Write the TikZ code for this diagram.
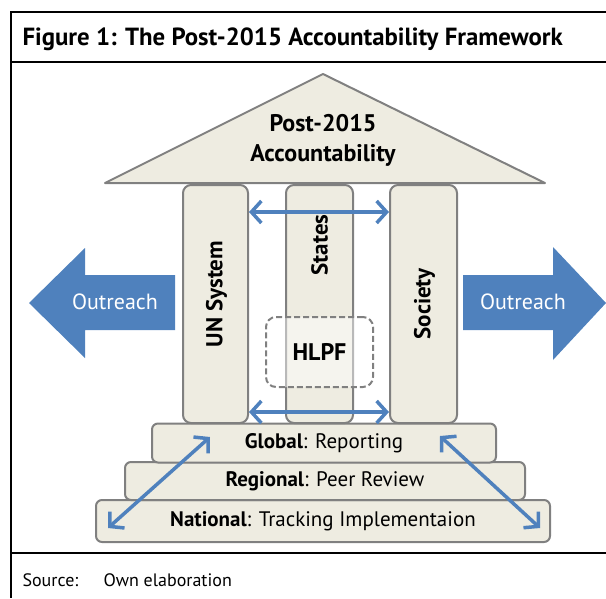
\documentclass[tikz,border=0pt]{standalone}
\usepackage{fontspec}
\setmainfont{PT Sans}
\usetikzlibrary{arrows.meta,positioning}
\definecolor{stone}{HTML}{EEECE1}
\definecolor{rim}{HTML}{808080}
\definecolor{ocean}{HTML}{4F81BD}

\begin{document}
\begin{tikzpicture}[
                x=1pt, y=-1pt,
                frame/.style={draw=black, line width=2pt},
                pillar/.style={draw=rim, line width=2pt, fill=stone, rounded corners=8pt, minimum height=238pt, inner sep=0pt},
                stair/.style={draw=rim, line width=2pt, fill=stone, rounded corners=6pt, inner sep=0pt, font=\fontsize{21}{24}\selectfont},
                hub/.style={draw=rim, line width=2pt, dash pattern=on 6pt off 3pt, fill=white, fill opacity=0.45, text opacity=1, rounded corners=10pt, minimum width=107pt, minimum height=70pt, font=\bfseries\fontsize{24}{27}\selectfont},
                link/.style={draw=ocean, line width=3.5pt, {Straight Barb[length=10pt,width=22pt,line width=3.5pt]}-{Straight Barb[length=10pt,width=22pt,line width=3.5pt]}},
                outtext/.style={text=white, font=\fontsize{22}{25}\selectfont},
                lab/.style={font=\bfseries\fontsize{23}{26}\selectfont, rotate=90}
            ]
\useasboundingbox (0,0) rectangle (606,598);

% frame
                \draw[frame] (606,12) -- (11,12) -- (11,598);
                \draw[frame] (11,62) -- (606,62);
                \draw[frame] (11,553) -- (606,553);
                \node[anchor=west, font=\bfseries\fontsize{24.8}{28}\selectfont] (heading) at (19,39) {Figure 1: The Post-2015 Accountability Framework};
                \node[anchor=west, font=\fontsize{18}{21}\selectfont] (source) at (19,580) {Source:};
                \node[anchor=west, font=\fontsize{18}{21}\selectfont] (origin) at (100,580) {Own elaboration};

% outreach arrows
                \fill[ocean] (29,303) -- (85,248) -- (85,275) -- (175,275) -- (175,330) -- (85,330) -- (85,358) -- cycle;
                \fill[ocean] (606,303) -- (553,247) -- (553,275) -- (463,275) -- (463,330) -- (553,330) -- (553,360) -- cycle;
                \node[outtext] (outL) at (115,302) {Outreach};
                \node[outtext] (outR) at (523,302) {Outreach};

% steps
                \node[stair, minimum width=454pt, minimum height=42pt] (national) at (323,521) {\textbf{National}: Tracking Implementaion};
                \node[stair, minimum width=400pt, minimum height=38pt] (regional) at (325,481) {\textbf{Regional}: Peer Review};
                \node[stair, minimum width=344pt, minimum height=39pt] (global) at (324,443) {\textbf{Global}: Reporting};

% pillars
                \node[pillar, minimum width=65pt] (un) at (215.5,304) {};
                \node[pillar, minimum width=67pt] (states) at (319.5,304) {};
                \node[pillar, minimum width=67pt] (society) at (423.5,304) {};
                \node[lab] at ([xshift=1pt,yshift=10pt]un.center) {UN System};
                \node[lab] at ([yshift=59pt]states.center) {States};
                \node[lab] at ([xshift=1pt]society.center) {Society};

% roof
                \draw[draw=rim, line width=2pt, fill=stone, line join=round] (105,183) -- (323,74) -- (545,183) -- cycle;
                \node[font=\bfseries\fontsize{24}{27}\selectfont, align=center] (roof) at (323,140) {Post-2015\\[3pt]Accountability};

% forum
                \node[hub] (hlpf) at (319.5,352) {HLPF};

% links
                \coordinate (gl) at (210,437);
                \coordinate (nl) at (108,528);
                \coordinate (gr) at (440,436);
                \coordinate (nr) at (540,528);
                \draw[link] ([yshift=92pt]un.east) -- ([yshift=92pt]society.west);
                \draw[link] ([yshift=-108pt]un.east) -- ([yshift=-108pt]society.west);
                \draw[link] (gl) -- (nl);
                \draw[link] (gr) -- (nr);

            \end{tikzpicture}
\end{document}
